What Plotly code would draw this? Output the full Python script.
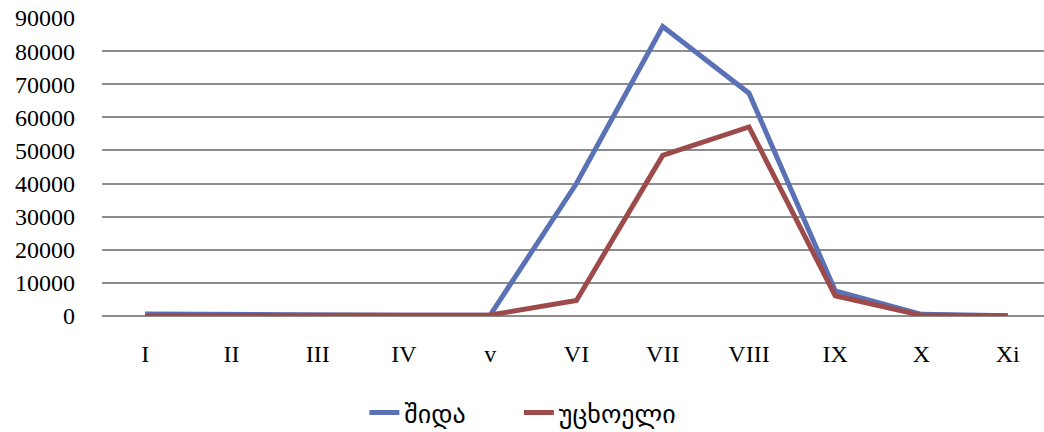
import plotly.graph_objects as go

months = ["I", "II", "III", "IV", "v", "VI", "VII", "VIII", "IX", "X", "Xi"]
domestic = [600, 400, 100, 200, 300, 40000, 87400, 67300, 7600, 500, 100]
foreign = [100, 100, 50, 100, 300, 4700, 48500, 57100, 6100, 200, 50]

fig = go.Figure()
fig.add_trace(go.Scatter(x=months, y=domestic, mode="lines", name="შიდა",
                         line=dict(color="#5A72B5", width=5), legend="legend"))
fig.add_trace(go.Scatter(x=months, y=foreign, mode="lines", name="უცხოელი",
                         line=dict(color="#9C4A4A", width=5), legend="legend2"))

leg_font = dict(family="DejaVu Sans, sans-serif", size=26)
fig.update_layout(
    width=1044, height=432,
    margin=dict(l=102, r=0, t=18, b=116, autoexpand=False),
    plot_bgcolor="white", paper_bgcolor="white",
    font=dict(family="Liberation Serif, DejaVu Serif, serif", size=24, color="black"),
    showlegend=True,
    legend=dict(orientation="h", xref="container", x=0.349, xanchor="left",
                yref="container", y=0.045, yanchor="middle", font=leg_font),
    legend2=dict(orientation="h", xref="container", x=0.497, xanchor="left",
                 yref="container", y=0.045, yanchor="middle", font=leg_font),
)
fig.update_xaxes(range=[-0.5, 10.42], showgrid=False, showline=False, ticks="",
                 automargin=False, ticklabelstandoff=21)
fig.update_yaxes(range=[0, 90000], dtick=10000, showgrid=True, gridcolor="#8c8c8c",
                 gridwidth=2, zeroline=True, zerolinecolor="#8c8c8c", zerolinewidth=2,
                 tickformat="d", ticks="", ticklabelstandoff=26, automargin=False)

# drop the default body margin so the figure fills the window
fig.write_html("out.html", config={"displayModeBar": False},
               post_script="document.body.style.margin='0';")
